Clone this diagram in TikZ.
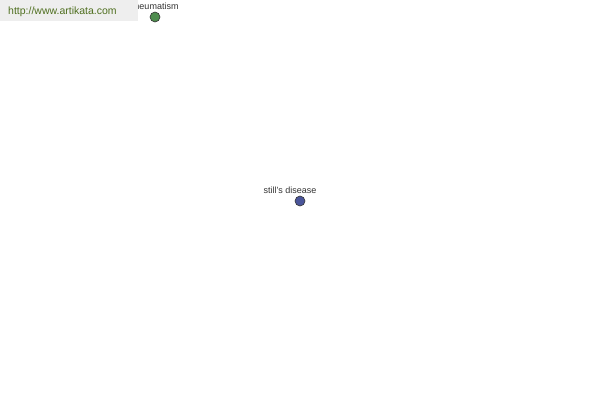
\documentclass[tikz,border=0pt]{standalone}
\usepackage{fontspec}
\setmainfont{Liberation Sans}
\definecolor{bannergray}{HTML}{EEEEEE}
\definecolor{linkgreen}{HTML}{4F6F1F}
\definecolor{greennode}{HTML}{4E8C4E}
\definecolor{bluenode}{HTML}{4A559A}
\definecolor{labelgray}{HTML}{333333}
\tikzset{
	term/.style = {circle, draw=black!80, line width=0.6pt, minimum size=10pt, inner sep=0pt},
	termlabel/.style = {text=labelgray, font=\fontsize{9}{10}\selectfont, inner sep=0pt}
}

\begin{document}
\begin{tikzpicture}[x=1pt, y=-1pt]
				\useasboundingbox[fill=white] (0,0) rectangle (600,400);
				\node[term, fill=greennode] (rheumatism) at (155,17) {};
				\node[termlabel] (rheumatismlabel) at (155,6) {rheumatism};
				\node[term, fill=bluenode] (stills) at (300,201) {};
				\node[termlabel] (stillslabel) at (290,190) {still's disease};
				\fill[bannergray] (0,0) rectangle (138,21);
				\node[text=linkgreen, font=\fontsize{10.5}{12}\selectfont, anchor=west, inner sep=0pt] (banner) at (8,12) {http://www.artikata.com};
			\end{tikzpicture}
\end{document}
